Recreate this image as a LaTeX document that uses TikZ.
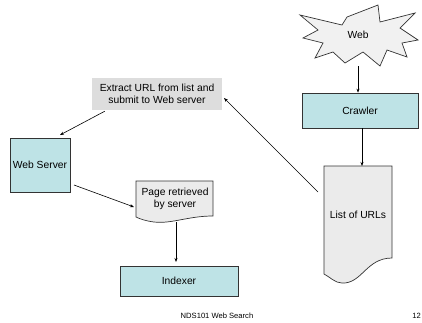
\documentclass[tikz,border=0pt]{standalone}
\usepackage{fontspec}
\setmainfont{Liberation Sans}
\usetikzlibrary{arrows.meta}
\definecolor{procfill}{HTML}{BEE3E6}
\definecolor{docfill}{HTML}{EBEBEB}
\definecolor{notefill}{HTML}{DDDDDD}
\definecolor{outline}{HTML}{333333}
\tikzset{
  procbox/.style={draw=outline, fill=procfill, line width=0.7pt, inner sep=1pt,
    font=\fontsize{10.3}{11.5}\selectfont},
  label/.style={inner sep=0pt, align=center, font=\fontsize{10.3}{11.5}\selectfont},
  docshape/.style={draw=outline, fill=docfill, line width=0.7pt},
  arr/.style={draw=black, line width=0.6pt, -{Stealth[length=4pt,width=3pt]}},
}
\begin{document}
\begin{tikzpicture}[x=1pt,y=-1pt]
\clip (0,0) rectangle (422,322);
\fill[white] (0,0) rectangle (422,322);

% the Web, as an explosion outline
\draw[docshape, fill=docfill!70!white] (300,15) -- (342,25) -- (347,17) -- (378,5) -- (380,22)
  -- (415,13) -- (400,28) -- (418,40) -- (402,43) -- (407,57) -- (387,50)
  -- (380,66) -- (363,52) -- (345,63) -- (333,52) -- (315,58) -- (323,43)
  -- (303,38) -- (318,30) -- cycle;
\node[label] (web) at (358,35) {Web};
\coordinate (webfoot) at (358,66);

% process boxes
\node[procbox, minimum width=116pt, minimum height=35pt] (crawler) at (360,110.5) {Crawler};
\node[procbox, minimum width=60pt, minimum height=54pt] (server) at (40,165) {Web Server};
\node[procbox, minimum width=118pt, minimum height=30pt] (indexer) at (179,281) {Indexer};

% note box without outline
\node[fill=notefill, minimum width=130pt, minimum height=32pt, label, inner sep=0pt] (extract) at (157,94)
  {Extract URL from list and\\ submit to Web server};

% document: list of URLs
\draw[docshape] (324,166) -- (392,166) -- (392,258)
  .. controls (366,258) and (362,284) .. (342,283)
  .. controls (335,283) and (330,277) .. (324,274) -- cycle;
\node[label] (list) at (358,215) {List of URLs};
\coordinate (listtop) at (362,166);
\coordinate (listside) at (318,192);

% document: page retrieved by server
\draw[docshape] (136,181) -- (213,181) -- (213,216)
  .. controls (188,216) and (172,224) .. (154,222)
  .. controls (146,221) and (140,219) .. (136,217) -- cycle;
\node[label] (page) at (175,199) {Page retrieved\\by server};
\coordinate (pagefoot) at (176,222);
\coordinate (pageside) at (134,207);

% connector end points
\path (extract.south west) ++(13,1) coordinate (extractfoot);
\coordinate (extractside) at (224,98);
\coordinate (servertop) at (60,135);
\coordinate (serverside) at (74,185);
\coordinate (indexertop) at (176,262);

% connectors
\draw[arr] (webfoot) -- (crawler.north -| webfoot);
\draw[arr] (crawler.south -| listtop) -- (listtop);
\draw[arr] (listside) -- (extractside);
\draw[arr] (extractfoot) -- (servertop);
\draw[arr] (serverside) -- (pageside);
\draw[arr] (pagefoot) -- (indexertop);

% footer
\node[inner sep=0pt, font=\fontsize{7.6}{9}\selectfont] (footer) at (217,316) {NDS101 Web Search};
\node[inner sep=0pt, anchor=east, font=\fontsize{7.6}{9}\selectfont] (pageno) at (421,316) {12};
\end{tikzpicture}
\end{document}
